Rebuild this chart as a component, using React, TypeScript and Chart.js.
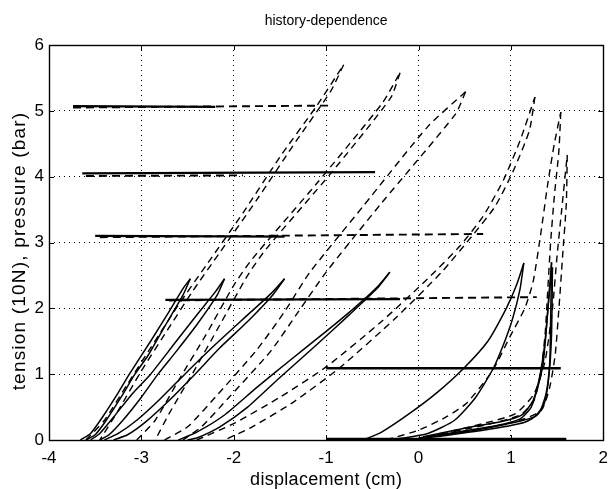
import React, { useEffect, useRef } from "react";
import { Chart, registerables } from "chart.js";

Chart.register(...registerables);

type Pt = [number, number];

// ---- axis / text ----
const titleText = "history-dependence";
const xTitle = "displacement (cm)";
const yTitle = "tension (10N), pressure (bar)";
const xTicks = [-4, -3, -2, -1, 0, 1, 2];
const yTicks = [0, 1, 2, 3, 4, 5, 6];

// ---- solid tension loops (rising branch / returning branch) ----
const loopA_up: Pt[] = [[-3.66, 0], [-3.55, 0.1], [-3.42, 0.35], [-3.25, 0.72], [-3.13, 1.0], [-2.9, 1.5], [-2.7, 1.95], [-2.55, 2.3], [-2.47, 2.45]];
const loopA_dn: Pt[] = [[-2.47, 2.45], [-2.55, 2.2], [-2.75, 1.72], [-2.93, 1.28], [-3.07, 1.0], [-3.22, 0.65], [-3.38, 0.3], [-3.5, 0.08], [-3.6, 0]];
const loopB_up: Pt[] = [[-3.55, 0], [-3.45, 0.1], [-3.3, 0.35], [-3.1, 0.7], [-2.9, 1.0], [-2.65, 1.45], [-2.4, 1.9], [-2.2, 2.25], [-2.1, 2.45]];
const loopB_dn: Pt[] = [[-2.1, 2.45], [-2.18, 2.2], [-2.4, 1.75], [-2.62, 1.35], [-2.82, 1.0], [-3.0, 0.65], [-3.2, 0.3], [-3.35, 0.08], [-3.45, 0]];
const loopC_up: Pt[] = [[-3.4, 0], [-3.25, 0.1], [-3.05, 0.3], [-2.8, 0.62], [-2.53, 1.0], [-2.2, 1.45], [-1.85, 1.9], [-1.6, 2.22], [-1.45, 2.45]];
const loopC_dn: Pt[] = [[-1.45, 2.45], [-1.58, 2.2], [-1.85, 1.8], [-2.15, 1.4], [-2.42, 1.0], [-2.7, 0.6], [-2.95, 0.28], [-3.15, 0.08], [-3.3, 0]];
const loopD_up: Pt[] = [[-2.6, 0], [-2.4, 0.12], [-2.1, 0.38], [-1.75, 0.8], [-1.4, 1.2], [-1.0, 1.65], [-0.7, 2.0], [-0.45, 2.32], [-0.31, 2.55]];
const loopD_dn: Pt[] = [[-0.31, 2.55], [-0.45, 2.3], [-0.75, 1.9], [-1.1, 1.45], [-1.5, 0.95], [-1.85, 0.5], [-2.15, 0.2], [-2.4, 0.03], [-2.5, 0]];
const loopE_up: Pt[] = [[-0.6, 0], [-0.4, 0.12], [-0.1, 0.4], [0.2, 0.72], [0.49, 1.09], [0.75, 1.5], [0.95, 2.0], [1.06, 2.35], [1.14, 2.69]];
const loopE_dn: Pt[] = [[1.14, 2.69], [1.1, 2.3], [1.02, 1.85], [0.92, 1.45], [0.81, 1.09], [0.62, 0.65], [0.39, 0.3], [0.1, 0.1], [-0.3, 0]];
const loopF_up: Pt[] = [[0.0, 0.03], [0.46, 0.13], [0.85, 0.22], [1.1, 0.32], [1.22, 0.5], [1.3, 0.85], [1.35, 1.17], [1.39, 1.8], [1.44, 2.7]];
const loopF_dn: Pt[] = [[1.44, 2.7], [1.43, 1.8], [1.42, 1.17], [1.38, 0.7], [1.3, 0.4], [1.15, 0.27], [0.8, 0.17], [0.3, 0.07], [0.05, 0.03]];
const loopG_up: Pt[] = [[0.05, 0.05], [0.5, 0.18], [0.9, 0.28], [1.12, 0.38], [1.24, 0.6], [1.31, 0.95], [1.37, 1.5], [1.42, 2.3], [1.45, 2.62]];
const loopG_dn: Pt[] = [[1.45, 2.62], [1.44, 1.6], [1.41, 0.95], [1.36, 0.55], [1.25, 0.35], [0.95, 0.24], [0.5, 0.12], [0.1, 0.05]];

// ---- dashed loops ----
const dash1_up: Pt[] = [[-3.6, 0], [-3.4, 0.3], [-3.15, 0.85], [-2.9, 1.4], [-2.6, 2.05], [-2.3, 2.65], [-1.9, 3.45], [-1.5, 4.3], [-1.11, 5.06], [-0.81, 5.7]];
const dash1_dn: Pt[] = [[-0.81, 5.7], [-0.95, 5.3], [-1.32, 4.55], [-1.75, 3.65], [-2.15, 2.85], [-2.45, 2.25], [-2.75, 1.6], [-3.0, 1.05], [-3.25, 0.45], [-3.45, 0]];
const dash2_up: Pt[] = [[-3.05, 0], [-2.85, 0.3], [-2.6, 0.9], [-2.3, 1.6], [-2.0, 2.35], [-1.8, 2.75], [-1.1, 3.9], [-0.39, 5.12], [-0.2, 5.58]];
const dash2_dn: Pt[] = [[-0.2, 5.58], [-0.3, 5.2], [-0.95, 4.05], [-1.65, 2.9], [-1.85, 2.5], [-2.15, 1.75], [-2.45, 1.0], [-2.7, 0.4], [-2.85, 0]];
const dash3_up: Pt[] = [[-2.75, 0], [-2.5, 0.2], [-2.2, 0.65], [-1.75, 1.37], [-1.45, 1.95], [-1.18, 2.54], [-0.6, 3.55], [0.1, 4.76], [0.51, 5.29]];
const dash3_dn: Pt[] = [[0.51, 5.29], [0.4, 4.95], [-0.4, 3.6], [-1.0, 2.55], [-1.3, 1.95], [-1.6, 1.35], [-2.05, 0.65], [-2.35, 0.2], [-2.55, 0]];
const dash4_up: Pt[] = [[-2.4, 0], [-2.0, 0.25], [-1.5, 0.65], [-1.0, 1.11], [-0.4, 1.8], [0.1, 2.45], [0.45, 2.95], [0.7, 3.4], [0.92, 3.95], [1.1, 4.55], [1.26, 5.21]];
const dash4_dn: Pt[] = [[1.26, 5.21], [1.2, 4.7], [1.03, 4.1], [0.83, 3.55], [0.58, 3.1], [0.25, 2.55], [-0.25, 1.85], [-0.85, 1.1], [-1.35, 0.58], [-1.8, 0.2], [-2.1, 0]];
const dash5_up: Pt[] = [[-0.35, 0], [0.0, 0.15], [0.3, 0.35], [0.52, 0.56], [0.8, 1.05], [0.99, 1.57], [1.15, 2.0], [1.24, 2.4], [1.32, 3.1], [1.4, 3.9], [1.47, 4.5], [1.54, 4.98]];
const dash5_dn: Pt[] = [[1.54, 4.98], [1.52, 4.4], [1.47, 3.7], [1.43, 3.0], [1.4, 2.3], [1.37, 1.6], [1.32, 1.0], [1.25, 0.6], [1.1, 0.38], [0.7, 0.22], [0.1, 0.05]];
const dash6_up: Pt[] = [[0.1, 0.05], [0.7, 0.25], [1.05, 0.4], [1.25, 0.7], [1.37, 1.2], [1.45, 2.0], [1.5, 2.8], [1.55, 3.5], [1.61, 4.33]];
const dash6_dn: Pt[] = [[1.61, 4.33], [1.6, 3.6], [1.56, 2.8], [1.52, 2.0], [1.48, 1.3], [1.42, 0.8], [1.33, 0.45], [1.1, 0.3], [0.6, 0.15], [0.1, 0.05]];

// ---- pressure levels (horizontal) ----
const p5_solid: Pt[] = [[-3.74, 5.07], [-2.2, 5.06]];
const p5_dash: Pt[] = [[-3.74, 5.05], [-0.95, 5.08]];
const p4_solid: Pt[] = [[-3.64, 4.05], [-0.47, 4.07]];
const p4_dash: Pt[] = [[-3.6, 4.01], [-1.9, 4.02]];
const p3_solid: Pt[] = [[-3.5, 3.1], [-1.45, 3.09]];
const p3_dash: Pt[] = [[-3.45, 3.08], [0.7, 3.13]];
const p2_solid: Pt[] = [[-2.74, 2.13], [-0.2, 2.14]];
const p2_dash: Pt[] = [[-2.7, 2.12], [1.28, 2.17]];
const p1_solid: Pt[] = [[-1.0, 1.09], [1.54, 1.09]];
const p0_solid: Pt[] = [[-1.0, 0.015], [1.6, 0.015]];

const solidCurves = [loopA_up, loopA_dn, loopB_up, loopB_dn, loopC_up, loopC_dn, loopD_up, loopD_dn, loopE_up, loopE_dn, loopF_up, loopF_dn, loopG_up, loopG_dn];
const dashedCurves = [dash1_up, dash1_dn, dash2_up, dash2_dn, dash3_up, dash3_dn, dash4_up, dash4_dn, dash5_up, dash5_dn, dash6_up, dash6_dn];
const levelSolid = [p5_solid, p4_solid, p3_solid, p2_solid, p1_solid, p0_solid];
const levelDashed = [p5_dash, p4_dash, p3_dash, p2_dash];

const FONT = "'Liberation Sans', Arial, Helvetica, sans-serif";

function ds(points: Pt[], width: number, dash: number[], tension: number) {
  return {
    data: points.map(([x, y]) => ({ x, y })),
    showLine: true,
    borderColor: "#000",
    backgroundColor: "#000",
    borderWidth: width,
    borderDash: dash,
    pointRadius: 0,
    pointHoverRadius: 0,
    tension,
    fill: false,
  };
}

const framePlugin = {
  id: "frame",
  afterDatasetsDraw(chart: any) {
    const { ctx, chartArea: a, scales } = chart;
    ctx.save();
    ctx.strokeStyle = "#000";
    ctx.lineWidth = 1.4;
    ctx.setLineDash([]);
    ctx.strokeRect(Math.round(a.left) + 0.5, Math.round(a.top) + 0.5, Math.round(a.right - a.left), Math.round(a.bottom - a.top));
    const tl = 5;
    ctx.lineWidth = 1;
    ctx.beginPath();
    for (const v of xTicks) {
      const px = Math.round(scales.x.getPixelForValue(v)) + 0.5;
      ctx.moveTo(px, a.bottom); ctx.lineTo(px, a.bottom - tl);
      ctx.moveTo(px, a.top); ctx.lineTo(px, a.top + tl);
    }
    for (const v of yTicks) {
      const py = Math.round(scales.y.getPixelForValue(v)) + 0.5;
      ctx.moveTo(a.left, py); ctx.lineTo(a.left + tl, py);
      ctx.moveTo(a.right, py); ctx.lineTo(a.right - tl, py);
    }
    ctx.stroke();
    ctx.restore();
  },
  afterDraw(chart: any) {
    const { ctx, chartArea: a } = chart;
    const cx = (a.left + a.right) / 2;
    ctx.save();
    ctx.fillStyle = "#000";
    ctx.textAlign = "center";
    ctx.textBaseline = "alphabetic";
    ctx.font = `14px ${FONT}`;
    ctx.fillText(titleText, cx, 25);
    ctx.font = `18px ${FONT}`;
    (ctx as any).letterSpacing = "0.3px";
    ctx.fillText(xTitle, cx, 485);
    ctx.translate(25, 251);
    ctx.rotate(-Math.PI / 2);
    ctx.font = `19px ${FONT}`;
    (ctx as any).letterSpacing = "1.2px";
    ctx.fillText(yTitle, 0, 0);
    ctx.restore();
  },
};

export default function App() {
  const ref = useRef<HTMLCanvasElement | null>(null);
  useEffect(() => {
    document.body.style.margin = "0";
    const canvas = ref.current;
    if (!canvas) return;
    const datasets: any[] = [];
    levelDashed.forEach((c) => datasets.push(ds(c, 1.9, [8, 5], 0)));
    levelSolid.forEach((c) => datasets.push(ds(c, 2.3, [], 0)));
    dashedCurves.forEach((c) => datasets.push(ds(c, 1.4, [7, 5], 0.2)));
    solidCurves.forEach((c) => datasets.push(ds(c, 1.5, [], 0.2)));
    const chart = new Chart(canvas, {
      type: "scatter",
      data: { datasets },
      options: {
        animation: false,
        responsive: false,
        devicePixelRatio: 1,
        layout: { padding: { top: 45, right: 5, left: 0, bottom: 0 } },
        plugins: { legend: { display: false }, tooltip: { enabled: false }, title: { display: false } },
        events: [],
        scales: {
          x: {
            type: "linear",
            min: -4,
            max: 2,
            afterFit: (s: any) => { s.height = 49; },
            afterBuildTicks: (s: any) => { s.ticks = xTicks.map((v) => ({ value: v })); },
            ticks: { color: "#000", font: { family: FONT, size: 17 }, padding: 8, maxRotation: 0, autoSkip: false },
            grid: { color: "#000", lineWidth: 1, drawTicks: false },
            border: { display: false, dash: [1, 4] },
          },
          y: {
            type: "linear",
            min: 0,
            max: 6,
            afterFit: (s: any) => { s.width = 49; },
            afterBuildTicks: (s: any) => { s.ticks = yTicks.map((v) => ({ value: v })); },
            ticks: { color: "#000", font: { family: FONT, size: 17 }, padding: 5, autoSkip: false },
            grid: { color: "#000", lineWidth: 1, drawTicks: false },
            border: { display: false, dash: [1, 4] },
          },
        },
      },
      plugins: [framePlugin],
    } as any);
    return () => chart.destroy();
  }, []);
  return (
    <div style={{ position: "absolute", left: 0, top: 0, width: 616, height: 489, background: "#fff" }}>
      <canvas ref={ref} width={616} height={489} style={{ display: "block", width: 616, height: 489 }} />
    </div>
  );
}
